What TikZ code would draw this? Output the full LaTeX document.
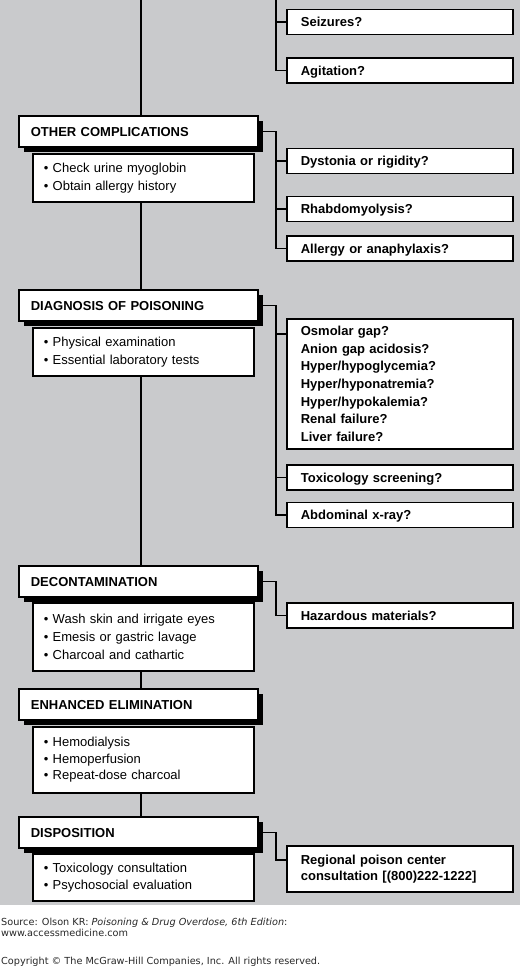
\documentclass[tikz,border=0pt]{standalone}
\usepackage{fontspec}
\setmainfont{Liberation Sans}
\newfontfamily\footfont{DejaVu Sans}
\usetikzlibrary{shadows,calc}
\definecolor{bggray}{RGB}{201,202,204}
\definecolor{foottext}{RGB}{40,40,40}
\begin{document}
\begin{tikzpicture}[x=1pt,y=-1pt,
 base/.style={draw=black, line width=1.7pt, fill=white, anchor=north west, align=left, inner ysep=0pt},
 hdr/.style={base, minimum width=239pt, minimum height=31pt, text width=215pt, inner xsep=12pt,
   font=\fontsize{13}{15}\selectfont\bfseries, text height=9.4pt, text depth=0pt,
   drop shadow={shadow xshift=5.5pt, shadow yshift=-5.5pt, fill=black, opacity=1}},
 sub/.style={base, minimum width=221pt, text width=199pt, inner xsep=11pt, font=\fontsize{13}{17.7}\selectfont},
 ask/.style={base, minimum width=226pt, text width=198pt, inner xsep=14pt, font=\fontsize{13}{17.7}\selectfont\bfseries},
 ask1/.style={ask, minimum height=25pt, text height=9.4pt, text depth=0pt},
 link/.style={line width=1.5pt, draw=black},
 foot/.style={anchor=base west, inner sep=0pt, text=foottext, font=\footfont\fontsize{9.7}{11}\selectfont}
]
\useasboundingbox (0,0) rectangle (520,967);
\fill[white] (0,0) rectangle (520,967);
\fill[bggray] (0,0) rectangle (520,905);

\coordinate (top) at (141,0);
\coordinate (tb) at (276,0);

% top-right questions
\node[ask1] (seiz) at (286,8.5) {Seizures?};
\node[ask1] (agit) at (286,57) {Agitation?};

% other complications
\node[hdr] (oc) at (18,115) {OTHER COMPLICATIONS};
\node[sub, minimum height=48pt] (ocs) at (32,153) {• Check urine myoglobin\\• Obtain allergy history};
\node[ask1] (dyst) at (286,147.5) {Dystonia or rigidity?};
\node[ask1] (rhab) at (286,195.5) {Rhabdomyolysis?};
\node[ask1] (allg) at (286,235) {Allergy or anaphylaxis?};

% diagnosis
\node[hdr] (dg) at (18,289) {DIAGNOSIS OF POISONING};
\node[sub, minimum height=48pt] (dgs) at (32,327) {• Physical examination\\• Essential laboratory tests};
\node[ask, minimum height=130pt] (labs) at (286,318) {Osmolar gap?\\Anion gap acidosis?\\Hyper/hypoglycemia?\\Hyper/hyponatremia?\\Hyper/hypokalemia?\\Renal failure?\\Liver failure?};
\node[ask1] (tox) at (286,464) {Toxicology screening?};
\node[ask1] (xray) at (286,501.5) {Abdominal x-ray?};

% decontamination
\node[hdr] (dc) at (18,565) {DECONTAMINATION};
\node[sub, minimum height=68pt] (dcs) at (32,602) {• Wash skin and irrigate eyes\\• Emesis or gastric lavage\\• Charcoal and cathartic};
\node[ask1] (haz) at (286,602) {Hazardous materials?};

% enhanced elimination
\node[hdr] (ee) at (18,688) {ENHANCED ELIMINATION};
\node[sub, minimum height=66pt, font=\fontsize{13}{16.5}\selectfont] (ees) at (32,726) {• Hemodialysis\\• Hemoperfusion\\• Repeat-dose charcoal};

% disposition
\node[hdr] (dp) at (18,816) {DISPOSITION};
\node[sub, minimum height=47pt, font=\fontsize{13}{16.7}\selectfont] (dps) at (32,853) {• Toxicology consultation\\• Psychosocial evaluation};
\node[ask, minimum height=46pt, font=\fontsize{13}{15.7}\selectfont\bfseries] (reg) at (286,845) {Regional poison center\\consultation [(800)222-1222]};

% main trunk
\draw[link] (top) -- (top |- oc.north);
\draw[link] (top |- ocs.south) -- (top |- dg.north);
\draw[link] (top |- dgs.south) -- (top |- dc.north);
\draw[link] (top |- dcs.south) -- (top |- ee.north);
\draw[link] (top |- ees.south) -- (top |- dp.north);

% branches
\draw[link] (tb) |- (seiz.west);
\draw[link] (tb) |- (agit.west);

\draw[link] (oc.east) -- (oc.east -| tb) |- (allg.west);
\draw[link] (oc.east -| tb) |- (dyst.west);
\draw[link] (oc.east -| tb) |- (rhab.west);

\draw[link] (dg.east) -- (dg.east -| tb) |- (xray.west);
\draw[link] (dg.east -| tb) |- ([yshift=-16pt]labs.north west);
\draw[link] (dg.east -| tb) |- (tox.west);

\draw[link] (dc.east) -- (dc.east -| tb) |- (haz.west);
\draw[link] (dp.east) -- (dp.east -| tb) |- ([yshift=-15pt]reg.north west);

% footer
\node[foot] (src) at (1,925.5) {Source: Olson KR: \textit{Poisoning \& Drug Overdose, 6th Edition}:};
\node[foot] (web) at (1,936.5) {www.accessmedicine.com};
\node[foot] (copy) at (1,964) {Copyright © The McGraw-Hill Companies, Inc. All rights reserved.};
\end{tikzpicture}
\end{document}
